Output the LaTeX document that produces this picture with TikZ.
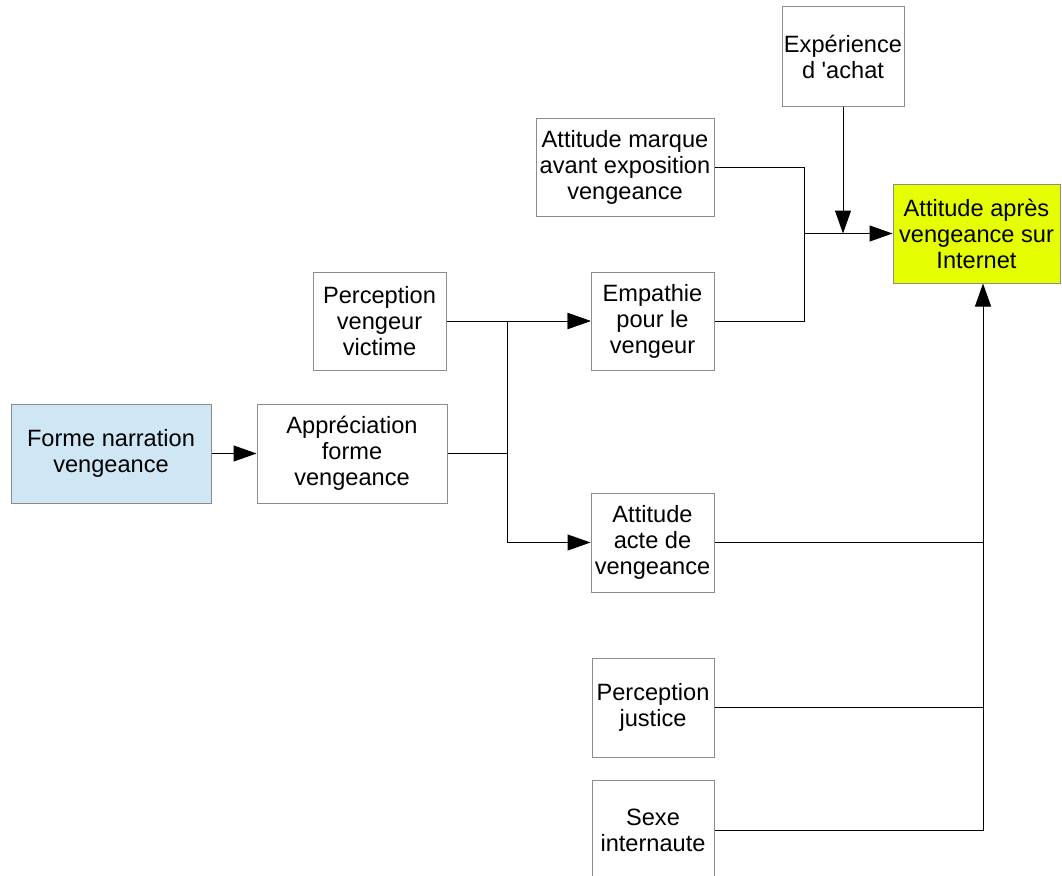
\documentclass[tikz,border=0pt]{standalone}
\usepackage{fontspec}
\setmainfont{Liberation Sans}
\usepackage{tikz}
\usetikzlibrary{arrows.meta}

\definecolor{boxgray}{RGB}{140,140,140}
\definecolor{narrblue}{RGB}{207,231,245}
\definecolor{resyellow}{RGB}{230,255,0}

\tikzset{
  box/.style={draw=boxgray, line width=1pt, fill=white, align=center,
    inner sep=0pt, font=\fontsize{23.6}{26}\selectfont},
  link/.style={black, line width=1pt},
}

\begin{document}
\begin{tikzpicture}[x=1pt,y=-1pt,>={Triangle[length=23pt,width=16pt]}]
    \useasboundingbox[fill=white] (0,0) rectangle (1062,875);

    % boxes
    \node[box, fill=narrblue, minimum width=200, minimum height=99] (forme) at (111,453.5) {Forme narration\\vengeance};
    \node[box, minimum width=190, minimum height=99] (apprec) at (352,453.5) {Appréciation\\forme\\vengeance};
    \node[box, minimum width=133, minimum height=98] (pvv) at (379.5,321) {Perception\\vengeur\\victime};
    \node[box, minimum width=123, minimum height=98] (empathie) at (652.5,321) {Empathie\\pour le\\vengeur};
    \node[box, minimum width=178, minimum height=98] (marque) at (625,167) {Attitude marque\\avant exposition\\vengeance};
    \node[box, minimum width=122, minimum height=99] (exp) at (843,56.5) {Expérience\\d \textquotesingle achat};
    \node[box, fill=resyellow, minimum width=167, minimum height=99] (apres) at (976.5,233.5) {Attitude après\\vengeance sur\\Internet};
    \node[box, minimum width=123, minimum height=99] (acte) at (652.5,542.5) {Attitude\\acte de\\vengeance};
    \node[box, minimum width=122, minimum height=99] (justice) at (653,707.5) {Perception\\justice};
    \node[box, minimum width=122, minimum height=100] (sexe) at (653,830) {Sexe\\internaute};

    % junctions
    \coordinate (j1) at (507,453.5);
    \coordinate (j2) at (804,233.5);
    \coordinate (j3) at (983,830);

    % connectors
    \draw[link,->] (forme) -- (apprec);
    \draw[link] (apprec) -- (j1);
    \draw[link,->] (j1) |- (empathie);
    \draw[link,->] (j1) |- (acte);
    \draw[link,->] (pvv) -- (empathie);
    \draw[link] (marque.east) -| (j2) |- (empathie.east);
    \draw[link,->] (j2) -- (apres);
    \draw[link,->] (exp) -- (exp |- j2);
    \draw[link,->] (sexe.east) -| (j3 |- apres.south);
    \draw[link] (acte) -- (acte -| j3);
    \draw[link] (justice) -- (justice -| j3);
\end{tikzpicture}
\end{document}
